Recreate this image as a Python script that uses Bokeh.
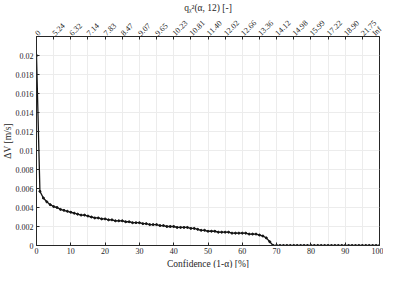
import math
from bokeh.plotting import figure
from bokeh.models import LinearAxis, FixedTicker, Range1d, Title
from bokeh.embed import file_html
from bokeh.resources import INLINE

# ---- data ----
confidence = list(range(0, 101))
delta_v = [
    0.0200, 0.0057, 0.0050, 0.0046, 0.0043, 0.0041, 0.0040, 0.0038, 0.0037, 0.0036,
    0.0035, 0.0034, 0.0033, 0.0032, 0.0032, 0.0031, 0.0030, 0.0029, 0.0029, 0.0028,
    0.0028, 0.0027, 0.0027, 0.0026, 0.0026, 0.0026, 0.0025, 0.0025, 0.0024, 0.0024,
    0.0024, 0.0023, 0.0023, 0.0022, 0.0022, 0.0022, 0.0021, 0.0021, 0.0020, 0.0020,
    0.0020, 0.0019, 0.0019, 0.0019, 0.0019, 0.0018, 0.0018, 0.0017, 0.0016, 0.0016,
    0.0015, 0.0015, 0.0015, 0.0014, 0.0014, 0.0014, 0.0014, 0.0013, 0.0013, 0.0013,
    0.0013, 0.0013, 0.0012, 0.0012, 0.0012, 0.0011, 0.0010, 0.0008, 0.0004, 0.0,
    0.0, 0.0, 0.0, 0.0, 0.0, 0.0, 0.0, 0.0, 0.0, 0.0,
    0.0, 0.0, 0.0, 0.0, 0.0, 0.0, 0.0, 0.0, 0.0, 0.0,
    0.0, 0.0, 0.0, 0.0, 0.0, 0.0, 0.0, 0.0, 0.0, 0.0,
    0.0,
]
x_ticks = [0, 10, 20, 30, 40, 50, 60, 70, 80, 90, 100]
y_ticks = [0, 0.002, 0.004, 0.006, 0.008, 0.01, 0.012, 0.014, 0.016, 0.018, 0.02]
y_tick_labels = ["0", "0.002", "0.004", "0.006", "0.008", "0.01", "0.012", "0.014",
                 "0.016", "0.018", "0.02"]
top_ticks = [0, 5, 10, 15, 20, 25, 30, 35, 40, 45, 50, 55, 60, 65, 70, 75, 80, 85, 90, 95, 100]
top_tick_labels = ["0", "5.24", "6.32", "7.14", "7.83", "8.47", "9.07", "9.65", "10.23",
                   "10.81", "11.40", "12.02", "12.66", "13.36", "14.12", "14.98", "15.99",
                   "17.22", "18.90", "21.75", "Inf"]
x_title = "Confidence (1-α) [%]"
y_title = "ΔV [m/s]"
top_title = "qᵪ²(α, 12) [-]"

FONT = "Liberation Serif"
AX = "#262626"

p = figure(width=383, height=268, output_backend="svg", toolbar_location=None,
           x_range=Range1d(0, 100), y_range=Range1d(0, 0.022),
           min_border_left=0, min_border_right=4, min_border_top=0, min_border_bottom=0)
p.outline_line_color = AX
p.outline_line_width = 1
p.background_fill_color = "white"
p.border_fill_color = "white"

p.line(confidence, delta_v, line_color="#141414", line_width=1.3)
p.scatter(confidence, delta_v, size=2, marker="circle", fill_color="#141414",
          line_color="#141414")

xa = p.xaxis[0]
xa.ticker = FixedTicker(ticks=x_ticks)
ya = p.yaxis[0]
ya.ticker = FixedTicker(ticks=y_ticks)
ya.major_label_overrides = {t: l for t, l in zip(y_ticks, y_tick_labels)}

ta = LinearAxis(ticker=FixedTicker(ticks=top_ticks),
                major_label_overrides={t: l for t, l in zip(top_ticks, top_tick_labels)},
                major_label_orientation=math.pi / 4)
p.add_layout(ta, "above")

for ax in (xa, ya, ta):
    ax.axis_line_color = AX
    ax.major_tick_line_color = AX
    ax.major_tick_in = 3
    ax.major_tick_out = 0
    ax.minor_tick_line_color = None
    ax.major_label_text_font = FONT
    ax.major_label_text_font_size = "8px"
    ax.major_label_text_color = "#262626"
    ax.major_label_standoff = 3
xa.major_label_standoff = 2
ta.major_label_standoff = 2

def side_title(text):
    return Title(text=text, align="center", text_font=FONT, text_font_size="9.5px",
                 text_font_style="normal", text_color="#262626", standoff=0, offset=0)

p.add_layout(side_title(x_title), "below")
p.add_layout(side_title(y_title), "left")
p.add_layout(side_title(top_title), "above")

p.xgrid.ticker = FixedTicker(ticks=top_ticks)
p.ygrid.ticker = FixedTicker(ticks=y_ticks)
p.xgrid.grid_line_color = "#ececec"
p.ygrid.grid_line_color = "#ececec"

open("out.html", "w").write(file_html(p, INLINE))
